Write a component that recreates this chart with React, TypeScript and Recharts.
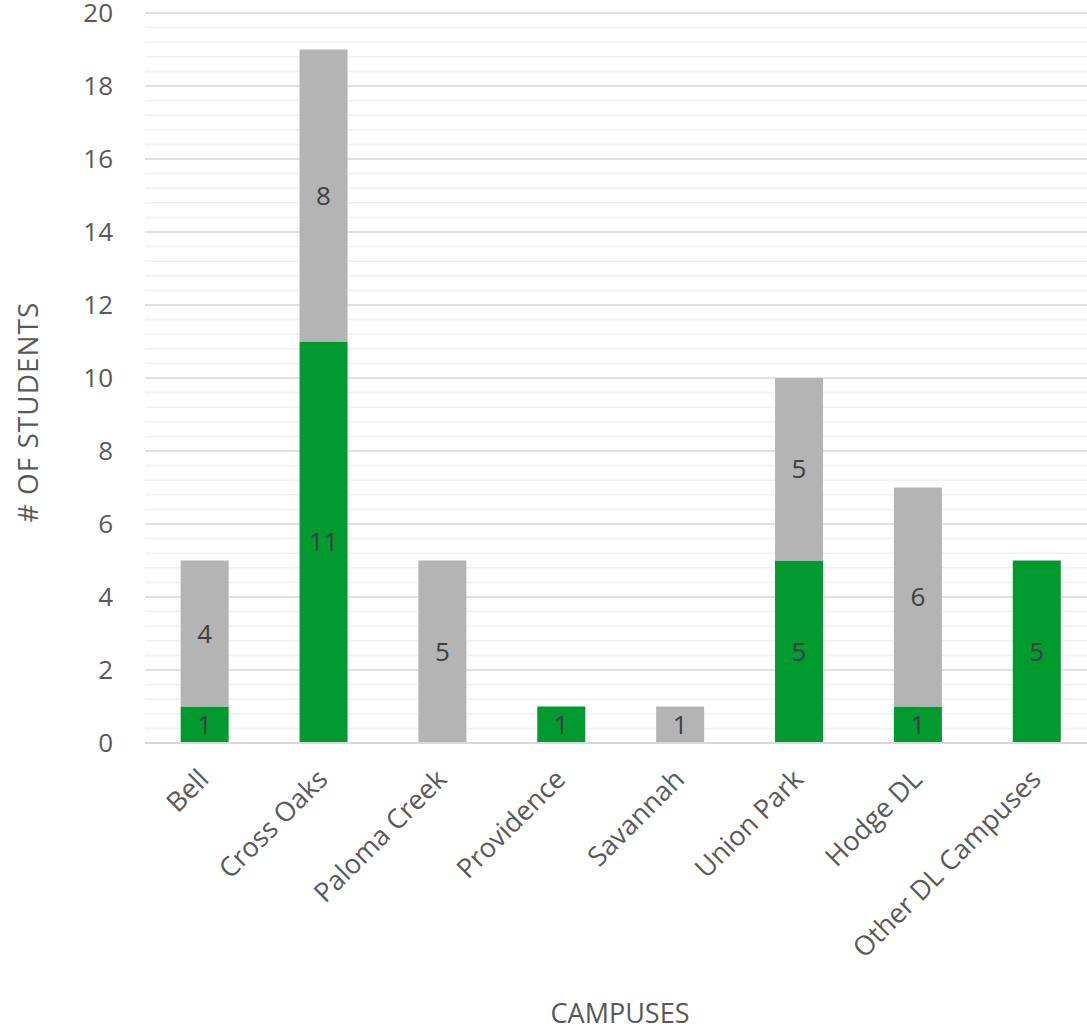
import { Bar, BarChart, CartesianGrid, LabelList, XAxis, YAxis } from "recharts"

const campuses = [
  "Bell",
  "Cross Oaks",
  "Paloma Creek",
  "Providence",
  "Savannah",
  "Union Park",
  "Hodge DL",
  "Other DL Campuses",
]
const greenValues = [1, 11, 0, 1, 0, 5, 1, 5]
const grayValues = [4, 8, 5, 0, 1, 5, 6, 0]
const yTicks = [0, 2, 4, 6, 8, 10, 12, 14, 16, 18, 20]
const minorSteps = [0.4, 0.8, 1.2, 1.6]

const data = campuses.map((name, i) => ({ name, green: greenValues[i], gray: grayValues[i] }))
const minorLines = yTicks.slice(0, -1).flatMap((t) => minorSteps.map((s) => t + s))

const FONT = "'Open Sans', 'Noto Sans', sans-serif"

const hideZero = (v: any) => (v ? v : "")

function CampusTick(props: any) {
  const { x, y, payload } = props
  return (
    <g transform={`translate(${x + 6},${y + 30}) rotate(-45)`}>
      <text textAnchor="end" fill="#595959" fontSize={27} fontFamily={FONT}>
        {payload.value}
      </text>
    </g>
  )
}

export default function App() {
  return (
    <div
      style={{
        position: "absolute",
        left: 0,
        top: 0,
        width: 1087,
        height: 1029,
        overflow: "hidden",
        background: "#fff",
      }}
    >
      {/* plot area runs a little past the right edge, like the original */}
      <BarChart
        width={1096}
        height={1029}
        data={data}
        margin={{ top: 13, right: 0, left: 0, bottom: 0 }}
        barCategoryGap="30%"
      >
        <CartesianGrid vertical={false} stroke="#F0F0F0" strokeWidth={1.5} horizontalValues={minorLines} />
        <CartesianGrid vertical={false} stroke="#D9D9D9" strokeWidth={1.5} horizontalValues={yTicks} />
        <XAxis
          dataKey="name"
          interval={0}
          tickLine={false}
          axisLine={{ stroke: "#D9D9D9", strokeWidth: 2 }}
          height={286}
          tick={<CampusTick />}
          label={{
            content: () => (
              <text x={620} y={1023} textAnchor="middle" fill="#595959" fontSize={27} fontFamily={FONT}>
                CAMPUSES
              </text>
            ),
          }}
        />
        <YAxis
          width={145}
          domain={[0, 20]}
          ticks={yTicks}
          interval={0}
          tickLine={false}
          axisLine={false}
          tickSize={0}
          tickMargin={32}
          tick={{ fill: "#595959", fontSize: 26, fontFamily: FONT }}
          label={{
            content: () => (
              <text
                x={38}
                y={412}
                transform="rotate(-90, 38, 412)"
                textAnchor="middle"
                fill="#595959"
                fontSize={28}
                letterSpacing={1}
                fontFamily={FONT}
              >
                # OF STUDENTS
              </text>
            ),
          }}
        />
        <Bar dataKey="green" stackId="a" fill="#009A2E" isAnimationActive={false}>
          <LabelList
            dataKey="green"
            position="center"
            formatter={hideZero}
            fill="#404040"
            fontSize={26}
            fontFamily={FONT}
          />
        </Bar>
        <Bar dataKey="gray" stackId="a" fill="#B4B4B4" isAnimationActive={false}>
          <LabelList
            dataKey="gray"
            position="center"
            formatter={hideZero}
            fill="#404040"
            fontSize={26}
            fontFamily={FONT}
          />
        </Bar>
      </BarChart>
    </div>
  )
}
